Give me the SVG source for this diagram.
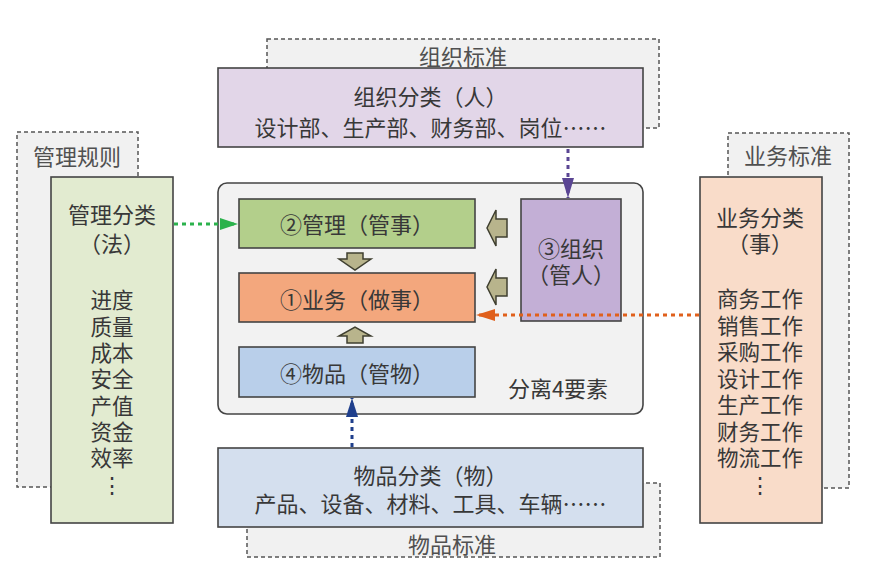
<svg xmlns="http://www.w3.org/2000/svg" width="869" height="571" viewBox="0 0 869 571">
<style>
text{font-family:"Noto Sans CJK SC","Noto Sans",sans-serif;font-size:22px;fill:#383838;text-anchor:middle;dominant-baseline:central}
.lst{font-size:21.5px}
.std{fill:#f1f1f1;stroke:#555;stroke-width:1.5;stroke-dasharray:4 3}
.std-t{fill:#505050}
.box{stroke:#444;stroke-width:1.6}
.blk{fill:#b8b48c;stroke:#3f3f30;stroke-width:1.5;stroke-linejoin:miter}
.conn{fill:none;stroke-width:3;stroke-dasharray:4 4}
</style>
<defs>
<marker id="ah-g" markerUnits="userSpaceOnUse" markerWidth="18" markerHeight="12" refX="18" refY="6" orient="auto"><path d="M0,0 L18,6 L0,12 z" fill="#2bb24c"/></marker>
<marker id="ah-p" markerUnits="userSpaceOnUse" markerWidth="20" markerHeight="12" refX="20" refY="6" orient="auto"><path d="M0,0 L20,6 L0,12 z" fill="#5a4593"/></marker>
<marker id="ah-o" markerUnits="userSpaceOnUse" markerWidth="19" markerHeight="12" refX="19" refY="6" orient="auto"><path d="M0,0 L19,6 L0,12 z" fill="#e0601c"/></marker>
<marker id="ah-b" markerUnits="userSpaceOnUse" markerWidth="19" markerHeight="12" refX="19" refY="6" orient="auto"><path d="M0,0 L19,6 L0,12 z" fill="#1f3f8c"/></marker>
</defs>
<rect width="869" height="571" fill="#ffffff"/>

<g id="org-std">
<rect class="std" x="267" y="39" width="392" height="89"/>
<text class="std-t" x="463" y="55">组织标准</text>
</g>
<g id="org-class">
<rect class="box" x="218" y="68" width="425" height="79" fill="#e2d6e8"/>
<text x="430.5" y="95">组织分类（人）</text>
<text x="430.5" y="126">设计部、生产部、财务部、岗位……</text>
</g>

<g id="mgmt-std">
<rect class="std" x="17" y="132" width="121" height="355"/>
<text class="std-t" x="77" y="155">管理规则</text>
</g>
<g id="mgmt-class">
<rect class="box" x="51" y="177" width="122" height="346" fill="#e2ebd0"/>
<text x="112" y="213">管理分类</text>
<text x="112" y="242">（法）</text>
<text class="lst" x="112" y="298"><tspan x="112" y="298">进度</tspan><tspan x="112" y="324.5">质量</tspan><tspan x="112" y="351">成本</tspan><tspan x="112" y="377">安全</tspan><tspan x="112" y="403.5">产值</tspan><tspan x="112" y="430">资金</tspan><tspan x="112" y="456">效率</tspan><tspan x="112" y="483">⋮</tspan></text>
</g>

<g id="biz-std">
<rect class="std" x="728" y="133" width="121" height="355"/>
<text class="std-t" x="788" y="154">业务标准</text>
</g>
<g id="biz-class">
<rect class="box" x="700" y="177" width="122" height="346" fill="#f9dcc9"/>
<text x="760" y="216">业务分类</text>
<text x="760" y="242">（事）</text>
<text class="lst" x="760" y="297"><tspan x="760" y="297">商务工作</tspan><tspan x="760" y="323.5">销售工作</tspan><tspan x="760" y="350">采购工作</tspan><tspan x="760" y="376.5">设计工作</tspan><tspan x="760" y="403">生产工作</tspan><tspan x="760" y="429.5">财务工作</tspan><tspan x="760" y="456">物流工作</tspan><tspan x="760" y="483">⋮</tspan></text>
</g>

<g id="goods-std">
<rect class="std" x="247" y="483" width="413" height="74"/>
<text class="std-t" x="452" y="543">物品标准</text>
</g>
<g id="goods-class">
<rect class="box" x="218" y="448" width="425" height="79" fill="#d4dfee"/>
<text x="430.5" y="474">物品分类（物）</text>
<text x="430.5" y="502">产品、设备、材料、工具、车辆……</text>
</g>

<g id="core">
<rect class="box" x="218" y="183" width="425" height="231" rx="9" fill="#f2f2f2"/>
<text x="558" y="387">分离4要素</text>
</g>
<g id="n2-mgmt">
<rect class="box" x="239" y="199" width="236" height="49" fill="#b3cf8b"/>
<text x="357" y="223">②管理（管事）</text>
</g>
<g id="n1-biz">
<rect class="box" x="239" y="273" width="236" height="49" fill="#f3a77d"/>
<text x="357" y="298">①业务（做事）</text>
</g>
<g id="n4-goods">
<rect class="box" x="239" y="347" width="236" height="50" fill="#b9cfea"/>
<text x="357" y="372">④物品（管物）</text>
</g>
<g id="n3-org">
<rect class="box" x="521" y="199" width="100" height="122" fill="#c3afd6"/>
<text x="571" y="247">③组织</text>
<text x="571" y="273">（管人）</text>
</g>

<g id="connectors">
<path class="blk" d="M347,253 H363 V259 H371 L355,270 L339,259 H347 Z"/>
<path class="blk" d="M347,343 H363 V336 H371 L355,327 L339,336 H347 Z"/>
<path class="blk" d="M507,219 V237 H496 V246 L487,228 L496,210 V219 Z"/>
<path class="blk" d="M507,278 V296 H496 V305 L487,287 L496,269 V278 Z"/>
<line class="conn" x1="174" y1="224" x2="238" y2="224" stroke="#2bb24c" marker-end="url(#ah-g)"/>
<line class="conn" x1="568" y1="149" x2="568" y2="198" stroke="#5a4593" marker-end="url(#ah-p)"/>
<line class="conn" x1="699" y1="315" x2="476" y2="315" stroke="#e0601c" marker-end="url(#ah-o)"/>
<line class="conn" x1="352" y1="447" x2="352" y2="398" stroke="#1f3f8c" marker-end="url(#ah-b)"/>
</g>
</svg>
